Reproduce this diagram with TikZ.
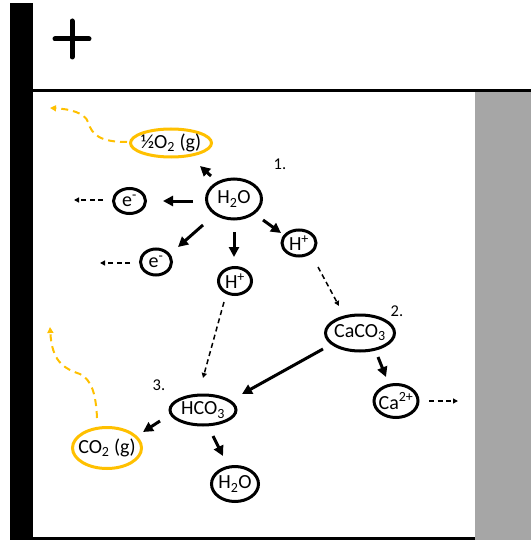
\documentclass[tikz,border=0pt]{standalone}
\usepackage{fontspec}
\setmainfont{Carlito}
\usetikzlibrary{shapes.geometric,arrows.meta,calc}
\definecolor{gold}{HTML}{FFC000}
\definecolor{panelgray}{HTML}{A6A6A6}
\begin{document}
\begin{tikzpicture}[x=1pt,y=-1pt,
 mol/.style={draw, ellipse, line width=3pt, inner sep=0pt},
 gmol/.style={mol, draw=gold},
 txt/.style={inner sep=0pt, font=\fontsize{20}{24}\selectfont},
 num/.style={inner sep=0pt, font=\fontsize{16.5}{19}\selectfont},
 arr/.style={line width=3pt, -{Triangle[length=10pt,width=10pt]}},
 darr/.style={line width=1.5pt, dash pattern=on 5pt off 3.5pt, -{Triangle[length=5pt,width=5pt]}},
 garr/.style={draw=gold, line width=2pt, dash pattern=on 7pt off 5pt, -{Triangle[length=6pt,width=6pt]}}]
\useasboundingbox (0,0) rectangle (531,540);
% frame
\fill[panelgray] (475,92) rectangle (531,540);
\fill[black] (10,3) rectangle (33,540);
\draw[line width=3pt] (33,90.5) -- (531,90.5);
\draw[line width=3pt] (33,538.5) -- (475,538.5);
% plus sign
\draw[line width=5pt, line cap=round] (55,39) -- (89,39);
\draw[line width=5pt, line cap=round] (72,21) -- (72,57);
% molecules
\node[gmol, minimum width=81pt, minimum height=28pt] (o2) at (171,143) {};
\node[txt] (o2t) at (o2) {½O\textsubscript{2} (g)};
\node[mol, minimum width=55pt, minimum height=40pt] (h2o) at (234,199) {};
\node[txt] (h2ot) at (h2o) {H\textsubscript{2}O};
\node[mol, minimum width=32pt, minimum height=25pt] (eL) at (129.5,201) {};
\node[txt] (eLt) at (eL) {e\textsuperscript{-}};
\node[mol, minimum width=31pt, minimum height=26pt] (eB) at (156,262) {};
\node[txt] (eBt) at (eB) {e\textsuperscript{-}};
\node[mol, minimum width=33pt, minimum height=27pt] (hb) at (235,281) {};
\node[txt] (hbt) at (hb) {H\textsuperscript{+}};
\node[mol, minimum width=34pt, minimum height=26pt] (hr) at (299,243) {};
\node[txt] (hrt) at (hr) {H\textsuperscript{+}};
\node[mol, minimum width=69pt, minimum height=36pt] (caco3) at (360,333) {};
\node[txt] (caco3t) at (caco3) {CaCO\textsubscript{3}};
\node[mol, minimum width=44pt, minimum height=33pt] (ca) at (396,401) {};
\node[txt] (cat) at (ca) {Ca\textsuperscript{2+}};
\node[mol, minimum width=66pt, minimum height=30pt] (hco3) at (203,410) {};
\node[txt] (hco3t) at (hco3) {HCO\textsubscript{3}};
\node[gmol, minimum width=69pt, minimum height=41pt] (co2) at (107,448) {};
\node[txt] (co2t) at (co2) {CO\textsubscript{2} (g)};
\node[mol, minimum width=47pt, minimum height=35pt] (h2ob) at (235,484) {};
\node[txt] (h2obt) at (h2ob) {H\textsubscript{2}O};
% step numbers
\node[num] (n1) at (280,164) {1.};
\node[num] (n2) at (397,311) {2.};
\node[num] (n3) at (159,385) {3.};
% free ends
\coordinate (eLo) at (74,200);
\coordinate (eBo) at (100,263);
\coordinate (cao) at (458,401);
\coordinate (o2o) at (50,108);
\coordinate (co2o) at (50,327);
% solid arrows
\draw[arr] ([shift={(-23,-23)}]h2o.center) -- ([shift={(29,23)}]o2.center);
\draw[arr] ([shift={(-41,2)}]h2o.center) -- ([shift={(33.5,0)}]eL.center);
\draw[arr] ([shift={(-31,26)}]h2o.center) -- ([shift={(22,-15)}]eB.center);
\draw[arr] ([shift={(0,33)}]h2o.center) -- ([shift={(-1,-24)}]hb.center);
\draw[arr] ([shift={(29,21)}]h2o.center) -- ([shift={(-18,-10)}]hr.center);
\draw[arr] ([shift={(-37,16)}]caco3.center) -- ([shift={(39,-16)}]hco3.center);
\draw[arr] ([shift={(18,24)}]caco3.center) -- ([shift={(-10,-24)}]ca.center);
\draw[arr] ([shift={(-43,11)}]hco3.center) -- ([shift={(36,-16)}]co2.center);
\draw[arr] ([shift={(10,26)}]hco3.center) -- ([shift={(-12,-28)}]h2ob.center);
% dashed arrows
\draw[darr] ([shift={(-26.5,-1)}]eL.center) -- (eLo);
\draw[darr] ([shift={(-26,1)}]eB.center) -- (eBo);
\draw[darr] ([shift={(19,24)}]hr.center) -- ([shift={(-21,-27)}]caco3.center);
\draw[darr] ([shift={(-11,21)}]hb.center) -- ([shift={(0,-32)}]hco3.center);
\draw[darr] ([shift={(33,0)}]ca.center) -- (cao);
% gas escape
\draw[garr] ([shift={(-44,-1)}]o2.center) .. controls (100,142) and (92,135) .. (88,122) .. controls (85,113) and (70,109) .. (o2o);
\draw[garr] ([shift={(-10,-30)}]co2.center) .. controls (96,395) and (92,380) .. (80,374) .. controls (62,368) and (52,360) .. (co2o);
\end{tikzpicture}
\end{document}
